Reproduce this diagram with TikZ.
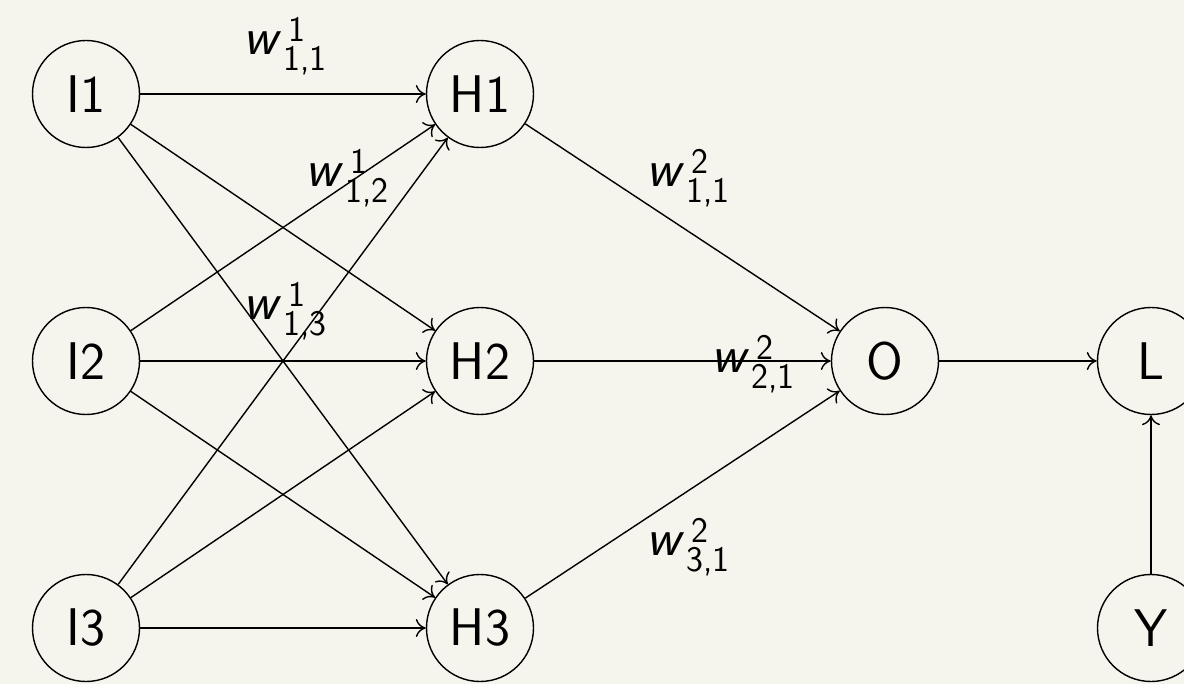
\documentclass[tikz,border=0pt]{standalone}
\usetikzlibrary{arrows.meta}
\definecolor{bg}{RGB}{245,245,237}
\newcommand{\wl}[3]{\textit{w}\kern1pt\rlap{\kern2.5pt\raisebox{6.5pt}{\fontsize{18}{18}\selectfont #1}}\raisebox{-8pt}{\fontsize{18}{18}\selectfont #2,#3}}
\begin{document}
\begin{tikzpicture}[x=0.5pt,y=-0.5pt,
  neuron/.style={circle,draw,line width=0.7pt,minimum size=53.5pt,inner sep=0pt,
    font=\sffamily\fontsize{26.5}{30}\selectfont},
  conn/.style={line width=0.7pt,-{To[length=5pt,width=9pt]}},
  wlab/.style={font=\sffamily\fontsize{26.5}{30}\selectfont,inner sep=0pt,anchor=base west}]
\fill[bg] (0,0) rectangle (1184,684);
\useasboundingbox (0,0) rectangle (1184,684);
\node[neuron] (I1) at (86,94) {I1};
\node[neuron] (I2) at (86,361) {I2};
\node[neuron] (I3) at (86,628) {I3};
\node[neuron] (H1) at (480,94) {H1};
\node[neuron] (H2) at (480,361) {H2};
\node[neuron] (H3) at (480,628) {H3};
\node[neuron] (O) at (885,361) {O};
\node[neuron] (L) at (1151,361) {L};
\node[neuron] (Y) at (1151,628) {Y};
\foreach \i in {1,2,3}{
  \foreach \j in {1,2,3}{
    \draw[conn] (I\i) -- (H\j);
  }
  \draw[conn] (H\i) -- (O);
}
\draw[conn] (O) -- (L);
\draw[conn] (Y) -- (L);
\node[wlab] (w111) at (243,55) {\wl{1}{1}{1}};
\node[wlab] (w112) at (305,187) {\wl{1}{1}{2}};
\node[wlab] (w113) at (243,320) {\wl{1}{1}{3}};
\node[wlab] (w211) at (646,187) {\wl{2}{1}{1}};
\node[wlab] (w221) at (711,372) {\wl{2}{2}{1}};
\node[wlab] (w231) at (646,555) {\wl{2}{3}{1}};
\end{tikzpicture}
\end{document}
